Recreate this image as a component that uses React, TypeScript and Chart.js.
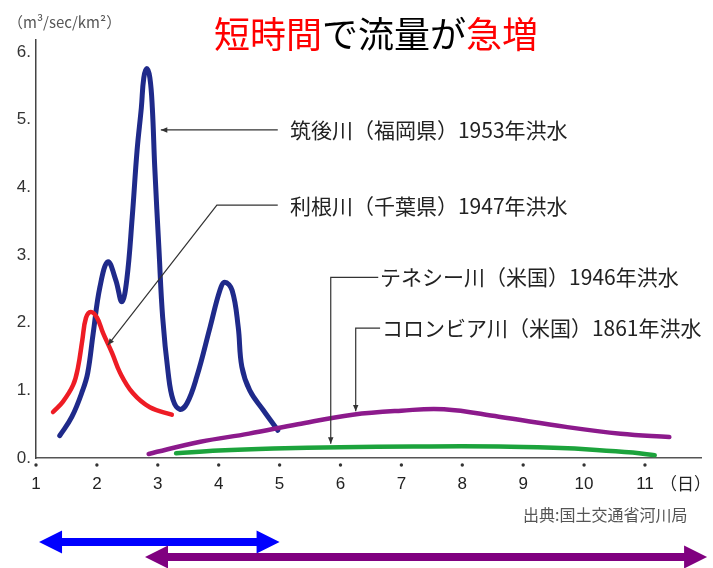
import { useEffect, useRef } from "react";
import { Chart, registerables } from "chart.js";

Chart.register(...registerables);

// ---- data (days, m3/sec/km2) ----
const xTicks = [1, 2, 3, 4, 5, 6, 7, 8, 9, 10, 11];
const yTicks = [0, 1, 2, 3, 4, 5, 6];

const chikugoDays = [1.39, 1.59, 1.77, 1.85, 1.94, 2.05, 2.18, 2.31, 2.41, 2.49, 2.58, 2.66, 2.73, 2.77, 2.82, 2.87, 2.91, 2.95, 3.02, 3.08, 3.17, 3.25, 3.36, 3.48, 3.64, 3.86, 4.02, 4.1, 4.22, 4.32, 4.38, 4.51, 4.73, 4.97];
const chikugoFlow = [0.33, 0.61, 1.01, 1.26, 1.85, 2.53, 2.9, 2.63, 2.31, 2.63, 3.56, 4.55, 5.18, 5.62, 5.76, 5.62, 5.18, 4.3, 3.07, 2.08, 1.26, 0.86, 0.72, 0.81, 1.2, 1.94, 2.48, 2.6, 2.48, 1.94, 1.35, 1.0, 0.71, 0.41];

const toneDays = [1.28, 1.44, 1.61, 1.69, 1.76, 1.82, 1.9, 2.0, 2.1, 2.25, 2.38, 2.59, 2.87, 3.23];
const toneFlow = [0.68, 0.83, 1.08, 1.34, 1.74, 2.07, 2.16, 2.08, 1.85, 1.55, 1.26, 0.96, 0.75, 0.64];

const tennesseeDays = [2.85, 3.7, 4.5, 5.3, 6.2, 7.0, 7.7, 8.6, 9.7, 10.6, 11.4];
const tennesseeFlow = [0.06, 0.24, 0.36, 0.5, 0.64, 0.7, 0.72, 0.61, 0.46, 0.36, 0.31];

const columbiaDays = [3.3, 4.0, 4.9, 6.0, 7.2, 8.6, 9.5, 10.2, 10.8, 11.16];
const columbiaFlow = [0.07, 0.11, 0.14, 0.16, 0.17, 0.17, 0.15, 0.12, 0.08, 0.04];

const titleParts = [
  { text: "短時間", color: "#ff0000" },
  { text: "で流量が", color: "#000000" },
  { text: "急増", color: "#ff0000" },
];
const unitLabel = "（m³/sec/km²）";
const dayUnit = "（日）";
const sourceText = "出典:国土交通省河川局";

// annotation labels with leader lines (points in data units: [day, value])
const annotations = [
  { text: "筑後川（福岡県）1953年洪水", textAt: [5.17, 4.85], path: [[4.97, 4.85], [3.05, 4.85]] },
  { text: "利根川（千葉県）1947年洪水", textAt: [5.17, 3.72], path: [[4.97, 3.74], [3.97, 3.74], [2.18, 1.67]] },
  { text: "テネシー川（米国）1946年洪水", textAt: [6.65, 2.67], path: [[6.62, 2.67], [5.84, 2.67], [5.84, 0.21]] },
  { text: "コロンビア川（米国）1861年洪水", textAt: [6.68, 1.92], path: [[6.65, 1.92], [6.25, 1.92], [6.25, 0.69]] },
];

// duration arrows under the axis (day spans)
const durationArrows = [
  { from: 1.05, to: 5.0, color: "#0000ff" },
  { from: 2.79, to: 12.02, color: "#800080" },
];

const CJK = "'Noto Sans CJK JP', 'Noto Sans', sans-serif";
const LAT = "'Liberation Sans', Arial, sans-serif";

function pts(xs: number[], ys: number[]) {
  return xs.map((x, i) => ({ x, y: ys[i] }));
}

function arrowHead(ctx: CanvasRenderingContext2D, fx: number, fy: number, tx: number, ty: number, size: number) {
  const a = Math.atan2(ty - fy, tx - fx);
  ctx.beginPath();
  ctx.moveTo(tx, ty);
  ctx.lineTo(tx - size * Math.cos(a - 0.4), ty - size * Math.sin(a - 0.4));
  ctx.lineTo(tx - size * Math.cos(a + 0.4), ty - size * Math.sin(a + 0.4));
  ctx.closePath();
  ctx.fill();
}

const decorPlugin = {
  id: "decor",
  beforeDraw(chart: any) {
    const ctx = chart.ctx as CanvasRenderingContext2D;
    ctx.save();
    ctx.fillStyle = "#ffffff";
    ctx.fillRect(0, 0, chart.width, chart.height);
    ctx.restore();
  },
  afterDraw(chart: any) {
    const ctx = chart.ctx as CanvasRenderingContext2D;
    const xs = chart.scales.x;
    const ys = chart.scales.y;
    const px = (d: number) => xs.getPixelForValue(d);
    const py = (v: number) => ys.getPixelForValue(v);
    ctx.save();

    // title
    ctx.font = `36px ${CJK}`;
    ctx.textBaseline = "middle";
    ctx.textAlign = "left";
    let tx = 214;
    for (const p of titleParts) {
      ctx.fillStyle = p.color;
      ctx.fillText(p.text, tx, 34);
      tx += ctx.measureText(p.text).width;
    }

    // unit label
    ctx.font = `15px ${CJK}`;
    ctx.fillStyle = "#555";
    ctx.fillText(unitLabel, 8, 22);

    // x tick dots
    ctx.fillStyle = "#333";
    for (const t of xTicks) {
      ctx.beginPath();
      ctx.arc(px(t), chart.chartArea.bottom + 7, 1.7, 0, Math.PI * 2);
      ctx.fill();
    }

    // day unit
    ctx.font = `17px ${CJK}`;
    ctx.fillStyle = "#222";
    ctx.fillText(dayUnit, 660, 484);

    // annotations
    ctx.strokeStyle = "#333";
    ctx.fillStyle = "#333";
    ctx.lineWidth = 1.2;
    for (const a of annotations) {
      const p = a.path.map(([d, v]) => [px(d), py(v)]);
      ctx.beginPath();
      ctx.moveTo(p[0][0], p[0][1]);
      for (let i = 1; i < p.length; i++) ctx.lineTo(p[i][0], p[i][1]);
      ctx.stroke();
      const n = p.length;
      arrowHead(ctx, p[n - 2][0], p[n - 2][1], p[n - 1][0], p[n - 1][1], 7);
    }
    ctx.font = `21px ${CJK}`;
    ctx.fillStyle = "#222";
    for (const a of annotations) {
      ctx.fillText(a.text, px(a.textAt[0]), py(a.textAt[1]));
    }

    // source
    ctx.font = `16px ${CJK}`;
    ctx.fillStyle = "#555";
    ctx.fillText(sourceText, 523, 515);

    // duration arrows
    const rows = [542, 557];
    durationArrows.forEach((ar, i) => {
      const y = rows[i];
      const x1 = px(ar.from);
      const x2 = px(ar.to);
      const hl = 23, hh = 11.5, t = 4;
      ctx.fillStyle = ar.color;
      ctx.beginPath();
      ctx.moveTo(x1, y);
      ctx.lineTo(x1 + hl, y - hh);
      ctx.lineTo(x1 + hl, y - t);
      ctx.lineTo(x2 - hl, y - t);
      ctx.lineTo(x2 - hl, y - hh);
      ctx.lineTo(x2, y);
      ctx.lineTo(x2 - hl, y + hh);
      ctx.lineTo(x2 - hl, y + t);
      ctx.lineTo(x1 + hl, y + t);
      ctx.lineTo(x1 + hl, y + hh);
      ctx.closePath();
      ctx.fill();
    });

    ctx.restore();
  },
};

export default function App() {
  const ref = useRef<HTMLCanvasElement | null>(null);

  useEffect(() => {
    document.body.style.margin = "0";
    const canvas = ref.current;
    if (!canvas) return;
    const line = (data: any[], color: string, width: number) => ({
      data,
      borderColor: color,
      borderWidth: width,
      pointRadius: 0,
      fill: false,
      tension: 0.4,
      borderCapStyle: "round" as const,
      borderJoinStyle: "round" as const,
    });
    const chart = new Chart(canvas, {
      type: "line",
      data: {
        datasets: [
          line(pts(tennesseeDays, tennesseeFlow), "#8c1a8c", 4.5),
          line(pts(columbiaDays, columbiaFlow), "#1ca33c", 4.5),
          line(pts(toneDays, toneFlow), "#ee1c25", 4.5),
          line(pts(chikugoDays, chikugoFlow), "#1f2a8a", 5),
        ],
      },
      options: {
        animation: false,
        responsive: false,
        events: [],
        layout: { padding: { top: 40, right: 12, left: 0, bottom: 0 } },
        plugins: { legend: { display: false }, tooltip: { enabled: false } },
        scales: {
          x: {
            type: "linear",
            min: 1,
            max: 11.92,
            grid: { display: false, drawTicks: false },
            border: { display: true, color: "#555", width: 1.5 },
            afterBuildTicks: (s: any) => {
              s.ticks = xTicks.map((value) => ({ value }));
            },
            afterFit: (s: any) => {
              s.height = 110;
            },
            ticks: {
              autoSkip: false,
              maxRotation: 0,
              padding: 16,
              color: "#222",
              font: { family: LAT, size: 17 },
              callback: (v: any) => String(v),
            },
          },
          y: {
            type: "linear",
            min: 0,
            max: 6.18,
            grid: { display: false, drawTicks: false },
            border: { display: true, color: "#444", width: 1.5 },
            afterBuildTicks: (s: any) => {
              s.ticks = yTicks.map((value) => ({ value }));
            },
            afterFit: (s: any) => {
              s.width = 36;
            },
            ticks: {
              padding: 5,
              color: "#333",
              font: { family: LAT, size: 17 },
              callback: (v: any) => `${v}.`,
            },
          },
        },
      },
      plugins: [decorPlugin],
    });
    return () => chart.destroy();
  }, []);

  return (
    <div style={{ position: "absolute", left: 0, top: 0, width: 713, height: 568 }}>
      <canvas ref={ref} width={713} height={568} style={{ display: "block" }} />
    </div>
  );
}
